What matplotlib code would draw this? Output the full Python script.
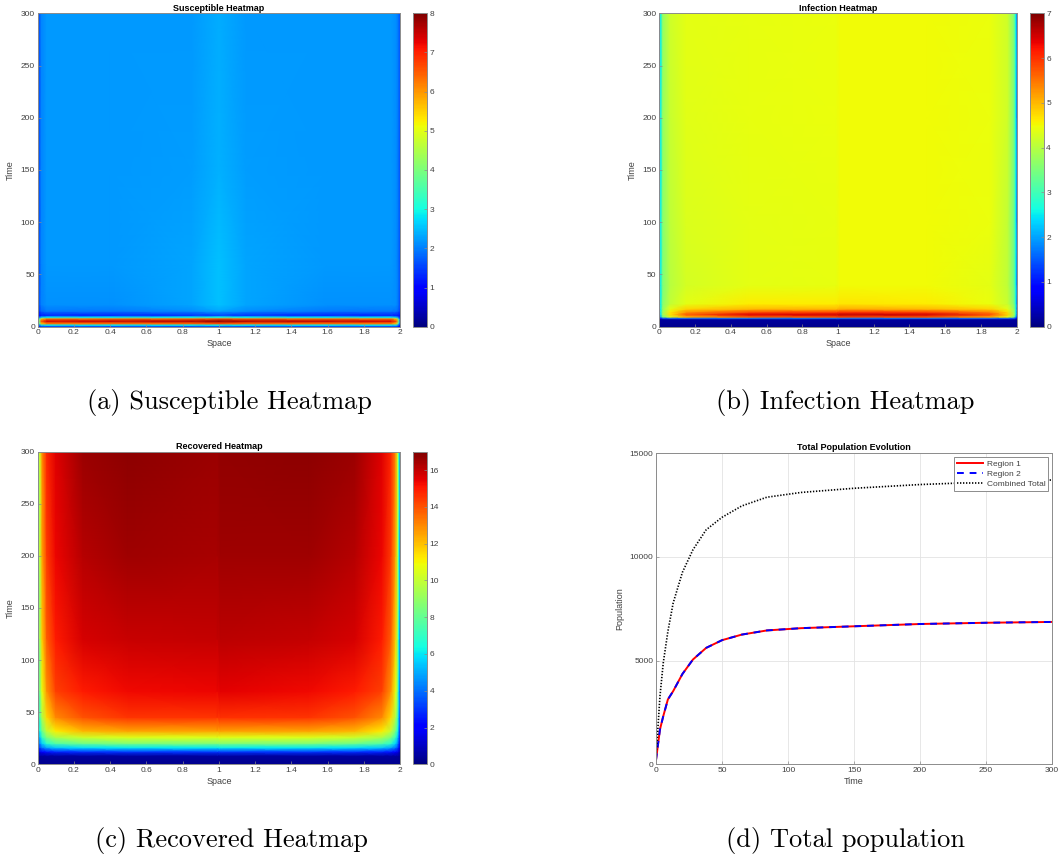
import numpy as np
import matplotlib
matplotlib.use("Agg")
import matplotlib.pyplot as plt

plt.rcParams['font.family'] = ['Liberation Sans', 'DejaVu Sans']
plt.rcParams['axes.unicode_minus'] = False

# ---------------- data ----------------
# Susceptible heatmap (rows = time nodes, cols = space nodes)
s_time = [0, 1.5, 3.2, 5.5, 7.8, 9.3, 11, 15, 21, 60, 150, 300]
s_space = [0, 0.008, 0.02, 0.05, 0.4, 0.85, 1.0, 1.15, 1.6, 1.95, 1.98, 1.992, 2]
s_vals = [
    [0.5, 1.0, 1.2, 1.2, 1.2, 1.2, 1.2, 1.2, 1.2, 1.2, 1.2, 1.0, 0.6],
    [0.7, 1.7, 2.6, 2.8, 2.8, 2.8, 2.9, 2.8, 2.8, 2.8, 2.6, 1.7, 0.8],
    [1.0, 3.2, 5.5, 6.2, 6.3, 6.4, 6.6, 6.4, 6.3, 6.2, 5.5, 3.2, 1.1],
    [1.3, 4.2, 6.7, 7.4, 7.5, 7.6, 7.9, 7.6, 7.5, 7.4, 6.7, 4.2, 1.4],
    [1.1, 3.4, 5.4, 6.1, 6.2, 6.3, 6.5, 6.3, 6.2, 6.1, 5.4, 3.4, 1.2],
    [0.8, 1.8, 2.5, 2.8, 2.8, 2.9, 3.0, 2.9, 2.8, 2.8, 2.5, 1.8, 1.0],
    [0.6, 1.0, 1.2, 1.3, 1.3, 1.4, 1.5, 1.4, 1.3, 1.3, 1.2, 1.1, 0.9],
    [0.6, 1.4, 1.8, 1.95, 1.95, 2.1, 2.3, 2.1, 1.95, 1.95, 1.9, 1.7, 1.4],
    [0.6, 1.6, 2.0, 2.15, 2.15, 2.3, 2.5, 2.3, 2.15, 2.15, 2.1, 1.9, 1.5],
    [0.6, 1.6, 2.05, 2.2, 2.2, 2.3, 2.5, 2.3, 2.2, 2.2, 2.1, 1.9, 1.6],
    [0.6, 1.6, 2.05, 2.2, 2.2, 2.22, 2.4, 2.22, 2.2, 2.2, 2.1, 1.9, 1.6],
    [0.6, 1.6, 2.05, 2.2, 2.2, 2.2, 2.35, 2.2, 2.2, 2.2, 2.1, 1.9, 1.6],
]

# Infection heatmap
i_time = [0, 7, 8, 9.5, 11.5, 14, 17, 22, 40, 100, 200, 300]
i_space = [0, 0.006, 0.02, 0.06, 0.15, 0.5, 0.99, 1.01, 1.5, 1.85, 1.95, 1.985, 1.995, 2]
i_vals = [
    [0.1, 0.1, 0.1, 0.1, 0.1, 0.1, 0.1, 0.1, 0.1, 0.1, 0.1, 0.1, 0.1, 0.1],
    [0.2, 0.2, 0.2, 0.2, 0.2, 0.2, 0.2, 0.2, 0.2, 0.2, 0.2, 0.2, 0.2, 0.2],
    [0.3, 0.8, 1.2, 1.4, 1.5, 1.6, 1.6, 1.6, 1.6, 1.5, 1.4, 1.2, 0.8, 0.4],
    [0.4, 2.0, 3.4, 4.3, 5.0, 5.6, 5.7, 5.8, 5.7, 5.1, 4.4, 3.5, 2.2, 1.0],
    [0.5, 2.4, 3.8, 4.7, 5.7, 6.4, 6.5, 6.6, 6.5, 5.8, 4.8, 3.9, 2.8, 1.3],
    [0.5, 2.5, 3.8, 4.6, 5.3, 5.8, 5.9, 6.0, 5.9, 5.4, 4.7, 3.8, 2.8, 1.4],
    [0.5, 2.5, 3.7, 4.4, 4.8, 5.0, 5.0, 5.1, 5.0, 4.8, 4.4, 3.7, 2.8, 1.5],
    [0.5, 2.5, 3.6, 4.1, 4.4, 4.6, 4.6, 4.65, 4.6, 4.45, 4.15, 3.5, 2.7, 1.5],
    [0.5, 2.5, 3.5, 4.0, 4.25, 4.4, 4.42, 4.5, 4.5, 4.4, 4.05, 3.4, 2.6, 1.5],
    [0.5, 2.5, 3.6, 4.05, 4.3, 4.4, 4.42, 4.5, 4.5, 4.45, 4.1, 3.4, 2.6, 1.5],
    [0.5, 2.5, 3.7, 4.15, 4.35, 4.42, 4.43, 4.5, 4.5, 4.45, 4.2, 3.5, 2.6, 1.5],
    [0.5, 2.5, 3.7, 4.2, 4.4, 4.42, 4.43, 4.5, 4.5, 4.45, 4.2, 3.5, 2.6, 1.5],
]

# Recovered heatmap
r_time = [0, 8, 12, 16, 20, 26, 32, 45, 70, 120, 200, 300]
r_space = [0, 0.005, 0.012, 0.025, 0.05, 0.1, 0.25, 0.5, 0.99, 1.01, 1.5,
           1.75, 1.9, 1.95, 1.975, 1.988, 1.995, 2]
r_vals = [
    [0.1, 0.2, 0.2, 0.2, 0.2, 0.2, 0.2, 0.2, 0.2, 0.2, 0.2, 0.2, 0.2, 0.2, 0.2, 0.2, 0.2, 0.1],
    [0.2, 0.3, 0.4, 0.4, 0.5, 0.5, 0.5, 0.5, 0.5, 0.5, 0.5, 0.5, 0.5, 0.5, 0.4, 0.4, 0.3, 0.2],
    [0.5, 1.0, 1.6, 2.0, 2.4, 2.7, 2.9, 3.0, 3.0, 3.05, 3.0, 2.9, 2.7, 2.4, 2.0, 1.6, 1.0, 0.5],
    [1.0, 2.2, 3.2, 4.0, 4.8, 5.4, 5.8, 6.0, 6.0, 6.1, 6.0, 5.8, 5.4, 4.8, 4.0, 3.2, 2.2, 1.0],
    [1.4, 3.0, 4.4, 5.6, 6.8, 7.6, 8.2, 8.5, 8.5, 8.6, 8.5, 8.2, 7.6, 6.8, 5.6, 4.4, 3.0, 1.4],
    [1.7, 3.7, 5.5, 7.0, 8.5, 9.5, 10.2, 10.5, 10.5, 10.6, 10.5, 10.2, 9.5, 8.5, 7.0, 5.5, 3.7, 1.7],
    [2.0, 4.3, 6.5, 8.3, 10.0, 11.2, 12.2, 12.5, 12.5, 12.6, 12.5, 12.2, 11.2, 10.0, 8.3, 6.5, 4.3, 2.0],
    [2.3, 5.0, 7.6, 9.6, 11.5, 13.0, 14.0, 14.5, 14.5, 14.6, 14.5, 14.0, 13.0, 11.5, 9.6, 7.6, 5.0, 2.3],
    [2.5, 5.6, 8.5, 10.8, 12.8, 14.3, 15.0, 15.3, 15.4, 15.5, 15.3, 15.0, 14.3, 12.8, 10.8, 8.5, 5.6, 2.5],
    [2.7, 6.1, 9.3, 11.8, 13.8, 15.0, 15.7, 15.9, 16.0, 16.1, 16.0, 15.7, 15.0, 13.8, 11.8, 9.3, 6.1, 2.7],
    [2.9, 6.5, 9.9, 12.5, 14.4, 15.4, 16.2, 16.5, 16.4, 16.5, 16.5, 16.2, 15.4, 14.4, 12.5, 9.9, 6.5, 2.9],
    [3.0, 6.8, 10.3, 13.0, 14.8, 15.6, 16.6, 16.8, 16.6, 16.7, 16.8, 16.6, 15.6, 14.8, 13.0, 10.3, 6.8, 3.0],
]

# Total population evolution
pop_time = [0, 1, 3, 5.5, 9, 13, 20, 28, 38, 50, 65, 84, 110, 150, 200, 250, 300]
region1 = [200, 700, 1680, 2320, 3125, 3525, 4350, 5050, 5610, 5980, 6250,
           6450, 6560, 6650, 6760, 6820, 6860]
region2 = [200, 700, 1680, 2320, 3125, 3525, 4350, 5050, 5610, 5980, 6250,
           6450, 6560, 6650, 6760, 6820, 6860]
combined = [400, 1300, 3280, 4890, 6400, 7770, 9250, 10340, 11300, 11900,
            12450, 12870, 13100, 13300, 13480, 13600, 13700]

captions = ['(a) Susceptible Heatmap', '(b) Infection Heatmap',
            '(c) Recovered Heatmap', '(d) Total population']

# ---------------- figure ----------------
W, H = 1060, 858
fig = plt.figure(figsize=(W / 100, H / 100), dpi=100)
TXT = '#404040'
EDGE = '#8c8c8c'


def box(x0, y0, x1, y1):
    return fig.add_axes([x0 / W, 1 - y1 / H, (x1 - x0) / W, (y1 - y0) / H])


def style(ax):
    for sp in ax.spines.values():
        sp.set_color(EDGE)
        sp.set_linewidth(0.7)
    ax.tick_params(direction='in', length=2.5, width=0.5, colors=EDGE,
                   labelcolor=TXT, labelsize=6, pad=2)


def heatmap(ax_box, cb_box, xs, ts, vals, vmax, cticks, title):
    ax = box(*ax_box)
    X, T = np.meshgrid(xs, ts)
    m = ax.pcolormesh(X, T, np.array(vals), shading='gouraud', cmap='jet',
                      vmin=0, vmax=vmax, rasterized=True)
    ax.set_xlim(0, 2)
    ax.set_ylim(0, 300)
    ax.set_xticks(np.arange(0, 2.01, 0.2))
    ax.set_xticklabels(['0', '0.2', '0.4', '0.6', '0.8', '1', '1.2', '1.4',
                        '1.6', '1.8', '2'])
    ax.set_yticks(range(0, 301, 50))
    ax.set_xlabel('Space', fontsize=6.5, color=TXT, labelpad=2)
    ax.set_ylabel('Time', fontsize=6.5, color=TXT, labelpad=4)
    ax.set_title(title, fontsize=6.5, fontweight='bold', pad=2)
    style(ax)
    cax = box(*cb_box)
    cb = fig.colorbar(m, cax=cax, ticks=cticks)
    cb.outline.set_edgecolor(EDGE)
    cb.outline.set_linewidth(0.7)
    cax.tick_params(direction='in', length=2.5, width=0.5, colors=EDGE,
                    labelcolor=TXT, labelsize=6, pad=2)
    return ax


heatmap((37.7, 13.3, 400, 326.7), (413, 13.3, 427, 326.7),
        s_space, s_time, s_vals, 8, range(0, 9), 'Susceptible Heatmap')
heatmap((659.3, 13.3, 1016.7, 326.7), (1030, 13.3, 1043.5, 326.7),
        i_space, i_time, i_vals, 7, range(0, 8), 'Infection Heatmap')
heatmap((37.7, 451.7, 400, 764.3), (413, 451.7, 427, 764.3),
        r_space, r_time, r_vals, 17, range(0, 17, 2), 'Recovered Heatmap')

# line plot
ax = box(656, 453, 1052, 764.3)
ax.plot(pop_time, region1, color='#ff0000', lw=1.4, label='Region 1')
ax.plot(pop_time, region2, color='#0000ff', lw=1.4, ls=(0, (3.5, 3)),
        label='Region 2')
ax.plot(pop_time, combined, color='black', lw=1.2, ls=(0, (0.8, 1.0)),
        label='Combined Total')
ax.set_xlim(0, 300)
ax.set_ylim(0, 15000)
ax.set_xticks(range(0, 301, 50))
ax.set_yticks([0, 5000, 10000, 15000])
ax.grid(True, color='#e3e3e3', lw=0.6)
ax.set_xlabel('Time', fontsize=6.5, color=TXT, labelpad=2)
ax.set_ylabel('Population', fontsize=6.5, color=TXT, labelpad=4)
ax.set_title('Total Population Evolution', fontsize=6.5, fontweight='bold', pad=2)
style(ax)
leg = ax.legend(loc='upper right', fontsize=6, frameon=True, fancybox=False,
                handlelength=3.2, borderaxespad=0.5, borderpad=0.3,
                labelspacing=0.3, handletextpad=0.4)
leg.get_frame().set_edgecolor(EDGE)
leg.get_frame().set_linewidth(0.7)
leg.get_frame().set_alpha(1)
for t in leg.get_texts():
    t.set_color(TXT)

# captions
cap_pos = [(229, 403), (845, 403), (231, 840), (845, 840)]
for (cx, cy), txt in zip(cap_pos, captions):
    fig.text(cx / W, 1 - cy / H, txt, ha='center', va='center',
             fontsize=19, family='cmr10')

fig.savefig('out.png', dpi=100)
